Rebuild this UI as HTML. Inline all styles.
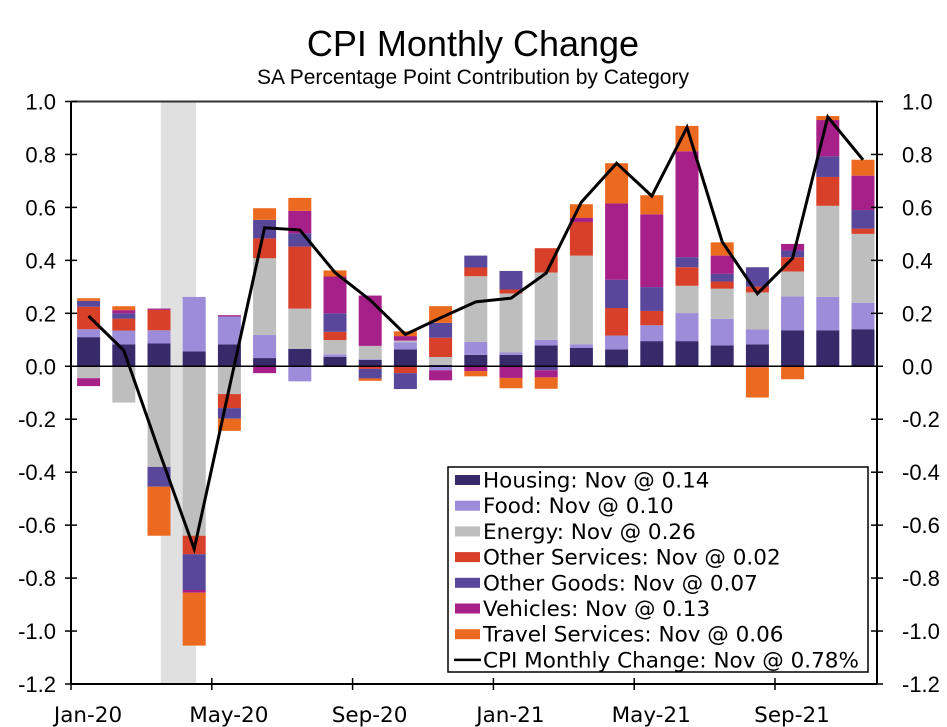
<!DOCTYPE html>
<html><head><meta charset="utf-8"><style>
body{margin:0;background:#fff;}
svg{display:block;}
.t{font-family:"Liberation Sans Narrow","Liberation Sans",sans-serif;}
.v{font-family:"DejaVu Sans","Liberation Sans",sans-serif;}
</style></head><body>
<svg id="chart" width="947" height="727" viewBox="0 0 947 727" xmlns="http://www.w3.org/2000/svg">
<rect x="0" y="0" width="947" height="727" fill="#fff"/>
<text x="473" y="56" text-anchor="middle" font-size="36" class="t">CPI Monthly Change</text>
<text x="473" y="84" text-anchor="middle" font-size="21" class="t">SA Percentage Point Contribution by Category</text>
<g id="shade"></g>
<g id="bars"></g>
<g id="axes"></g>
<g id="line"></g>
<g id="legend"></g>
</svg>
<script>
const months = ["Jan-20","Feb-20","Mar-20","Apr-20","May-20","Jun-20","Jul-20","Aug-20","Sep-20","Oct-20","Nov-20","Dec-20","Jan-21","Feb-21","Mar-21","Apr-21","May-21","Jun-21","Jul-21","Aug-21","Sep-21","Oct-21","Nov-21"];
const housing = [0.11,0.083,0.086,0.056,0.083,0.031,0.066,0.036,0.024,0.064,0.005,0.043,0.043,0.079,0.069,0.064,0.095,0.095,0.079,0.083,0.136,0.136,0.14];
const food = [0.03,0.052,0.05,0.206,0.105,0.087,-0.057,0.009,0.003,0.027,-0.015,0.049,0.009,0.021,0.014,0.052,0.06,0.106,0.1,0.056,0.128,0.126,0.10];
const energy = [-0.045,-0.137,-0.38,-0.64,-0.105,0.29,0.152,0.054,0.05,0.006,0.03,0.248,0.223,0.254,0.335,-0.005,0,0.103,0.114,0.14,0.094,0.344,0.26];
const otherServices = [0.085,0.045,0.077,-0.07,-0.053,0.075,0.234,0.031,-0.01,-0.026,0.073,0.033,0.015,0.092,0.127,0.104,0.054,0.07,0.027,0.022,0.054,0.109,0.02];
const otherGoods = [0.022,0.02,-0.075,-0.135,-0.04,0.07,0.05,0.07,-0.036,-0.06,0.056,0.045,0.07,-0.015,0.0,0.107,0.09,0.038,0.029,0.073,0.025,0.078,0.07];
const vehicles = [-0.03,0.012,0.005,-0.01,0.005,-0.026,0.085,0.139,0.19,0.017,-0.038,-0.018,-0.044,-0.027,0.015,0.288,0.275,0.4,0.069,-0.004,0.025,0.137,0.13];
const travel = [0.01,0.015,-0.185,-0.2,-0.046,0.044,0.049,0.023,-0.009,0.018,0.063,-0.02,-0.039,-0.043,0.052,0.152,0.072,0.096,0.05,-0.114,-0.049,0.015,0.06];
const cpi = [0.19,0.06,-0.32,-0.69,-0.08,0.523,0.515,0.354,0.25,0.12,0.183,0.243,0.257,0.352,0.62,0.767,0.643,0.902,0.47,0.274,0.408,0.942,0.78];
const yTicks = [1.0,0.8,0.6,0.4,0.2,0.0,-0.2,-0.4,-0.6,-0.8,-1.0,-1.2];
const xTickIdx = [0,4,8,12,16,20];
const recession = [2.55,3.55];

const NS="http://www.w3.org/2000/svg";
const X0=71, MW=35.2, XR=877, YT=101.5, YB=684;
const yMin=-1.2, yMax=1.0;
function ys(v){return YB-(v-yMin)/(yMax-yMin)*(YB-YT);}
function xs(i){return X0+i*MW;}
function mk(tag,attrs,parent){const e=document.createElementNS(NS,tag);for(const k in attrs)e.setAttribute(k,attrs[k]);parent.appendChild(e);return e;}

const series=[
 {name:"Housing",vals:housing,color:"#372a6b",label:"Housing: Nov @ 0.14"},
 {name:"Food",vals:food,color:"#9d8cd9",label:"Food: Nov @ 0.10"},
 {name:"Energy",vals:energy,color:"#bebebe",label:"Energy: Nov @ 0.26"},
 {name:"Other Services",vals:otherServices,color:"#d9402a",label:"Other Services: Nov @ 0.02"},
 {name:"Other Goods",vals:otherGoods,color:"#59479c",label:"Other Goods: Nov @ 0.07"},
 {name:"Vehicles",vals:vehicles,color:"#a71f88",label:"Vehicles: Nov @ 0.13"},
 {name:"Travel Services",vals:travel,color:"#ec6a20",label:"Travel Services: Nov @ 0.06"}
];

const sh=document.getElementById('shade');
const sr=mk('rect',{x:xs(recession[0]),y:YT,width:xs(recession[1])-xs(recession[0]),height:YB-YT,fill:"#e0e0e0"},sh);



const bg=document.getElementById('bars');
const bw=23;
months.forEach((m,i)=>{
  let pos=0,neg=0;
  const cx=xs(i+0.5);
  series.forEach(s=>{
    const v=s.vals[i];
    if(!v) return;
    let y0,y1;
    if(v>0){y0=pos;pos+=v;y1=pos;}else{y0=neg;neg+=v;y1=neg;}
    const top=Math.min(ys(y0),ys(y1)),h=Math.abs(ys(y0)-ys(y1));
    const r=mk('rect',{x:cx-bw/2,y:top,width:bw,height:h,fill:s.color},bg);
    
    
  });
});

const ax=document.getElementById('axes');
let l;
l=mk('line',{x1:X0,y1:YT,x2:XR,y2:YT,stroke:"#333",'stroke-width':2},ax);

l=mk('line',{x1:X0,y1:YT,x2:X0,y2:YB,stroke:"#000",'stroke-width':2},ax);

l=mk('line',{x1:XR,y1:YT,x2:XR,y2:YB,stroke:"#000",'stroke-width':2},ax);

l=mk('line',{x1:X0,y1:YB,x2:XR,y2:YB,stroke:"#000",'stroke-width':2},ax);

l=mk('line',{x1:X0,y1:ys(0),x2:XR,y2:ys(0),stroke:"#000",'stroke-width':1.5},ax);

yTicks.forEach(v=>{
  const y=ys(v);
  mk('line',{x1:X0-6,y1:y,x2:X0+6,y2:y,stroke:"#000",'stroke-width':1.5},ax);
  mk('line',{x1:XR-6,y1:y,x2:XR+6,y2:y,stroke:"#000",'stroke-width':1.5},ax);
  const t=mk('text',{x:56,y:y+8,'text-anchor':'end','font-size':22,class:'t'},ax);
  t.textContent=v.toFixed(1);
  
  
  const t2=mk('text',{x:902,y:y+8,'text-anchor':'start','font-size':22,class:'t'},ax);
  t2.textContent=v.toFixed(1);
  
  
});
xTickIdx.forEach(i=>{
  const x=xs(i);
  mk('line',{x1:x,y1:YB-6,x2:x,y2:YB+6,stroke:"#000",'stroke-width':1.5},ax);
  const t=mk('text',{x:x+17,y:722,'text-anchor':'middle','font-size':21.5,class:'v'},ax);
  t.textContent=months[i];
  
  
});

const lg=document.getElementById('line');
const pts=cpi.map((v,i)=>xs(i+0.5).toFixed(1)+","+ys(v).toFixed(1)).join(" ");
const pl=mk('polyline',{points:pts,fill:"none",stroke:"#000",'stroke-width':3,'stroke-linejoin':'miter'},lg);



const lgd=document.getElementById('legend');
const box=mk('rect',{x:448,y:467,width:420,height:205,fill:"#fff",stroke:"#000",'stroke-width':1.5},lgd);


series.forEach((s,k)=>{
  const y=480+k*25.7;
  mk('rect',{x:455,y:y-5,width:25,height:10,fill:s.color},lgd);
  const t=mk('text',{x:483,y:y+7.5,'font-size':21.5,class:'v'},lgd);
  t.textContent=s.label;
  
  
});
const ly=480+7*25.7;
mk('line',{x1:454,y1:ly,x2:481,y2:ly,stroke:"#000",'stroke-width':2.5},lgd);
const lt=mk('text',{x:483,y:ly+7.5,'font-size':21.5,class:'v'},lgd);
lt.textContent="CPI Monthly Change: Nov @ 0.78%";


</script>
</body></html>
